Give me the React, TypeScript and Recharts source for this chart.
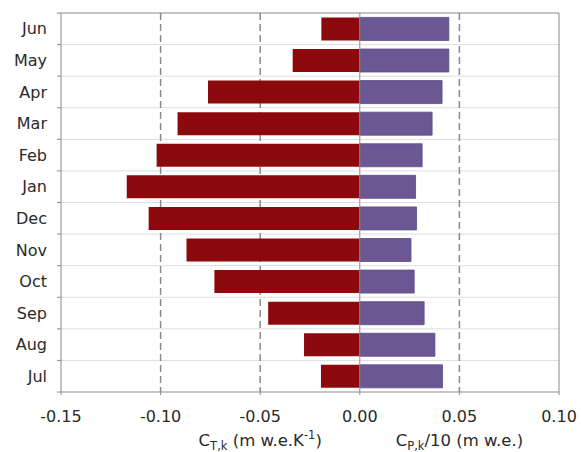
import React from "react";
import {
  BarChart,
  Bar,
  XAxis,
  YAxis,
  CartesianGrid,
  ReferenceLine,
  Label,
} from "recharts";

const months = ["Jun", "May", "Apr", "Mar", "Feb", "Jan", "Dec", "Nov", "Oct", "Sep", "Aug", "Jul"];
const tempSensitivity = [-0.0193, -0.0337, -0.0762, -0.0915, -0.102, -0.117, -0.106, -0.087, -0.073, -0.046, -0.028, -0.0195];
const precipSensitivity = [0.0447, 0.0447, 0.0413, 0.0363, 0.0313, 0.028, 0.0285, 0.0257, 0.0273, 0.0323, 0.0377, 0.0415];
const xTicks = [-0.15, -0.1, -0.05, 0, 0.05, 0.1];
const dashedAt = [-0.1, -0.05, 0.05];
const X_MIN = -0.15;
const X_MAX = 0.1;
const Y_AXIS_W = 61;
const TICK_LEN = 4;

const data = months.map((m, i) => ({ month: m, t: tempSensitivity[i], p: precipSensitivity[i] }));

const FONT = "'DejaVu Sans', Verdana, sans-serif";
const TEXT = "#2a2a2a";
const AXIS = "#8a8a8a";

const bandBoundaries = (offset: any, inner: boolean) => {
  const n = months.length;
  const out: number[] = [];
  for (let k = inner ? 1 : 0; k <= (inner ? n - 1 : n); k++) {
    out.push(offset.top + (k * offset.height) / n);
  }
  return out;
};

const dashedCoords = (offset: any) =>
  dashedAt.map((v) => offset.left + ((v - X_MIN) / (X_MAX - X_MIN)) * offset.width);

const TitleLabel = (props: any) => {
  const vb = props.viewBox || { x: 0, y: 0, width: 0, height: 0 };
  const y = vb.y + 54;
  const x1 = vb.x + vb.width * 0.4;
  const x2 = vb.x + vb.width * 0.8;
  return (
    <g fontFamily={FONT} fill={TEXT}>
      <text x={x1} y={y} textAnchor="middle" fontSize={16.5}>
        <tspan>C</tspan>
        <tspan fontSize={11.5} dy={4}>T,k</tspan>
        <tspan dy={-4}> (m w.e.K</tspan>
        <tspan fontSize={11.5} dy={-7}>-1</tspan>
        <tspan dy={7}>)</tspan>
      </text>
      <text x={x2} y={y} textAnchor="middle" fontSize={16.5}>
        <tspan>C</tspan>
        <tspan fontSize={11.5} dy={4}>P,k</tspan>
        <tspan dy={-4}>/10 (m w.e.)</tspan>
      </text>
    </g>
  );
};

export default function App() {
  return (
    <div style={{ position: "absolute", left: 0, top: 0, width: 581, height: 452, background: "#fff" }}>
      <BarChart
        width={581}
        height={452}
        data={data}
        layout="vertical"
        stackOffset="sign"
        barCategoryGap="14%"
        margin={{ top: 13, right: 22, bottom: 0, left: 0 }}
      >
        <YAxis
          type="category"
          dataKey="month"
          width={Y_AXIS_W}
          tickSize={TICK_LEN}
          tickMargin={10}
          tickLine={false}
          axisLine={false}
          tick={{ fill: TEXT, fontSize: 16, fontFamily: FONT }}
        />
        <XAxis
          type="number"
          domain={[X_MIN, X_MAX]}
          ticks={xTicks}
          allowDataOverflow
          height={60}
          tickSize={3}
          tickMargin={16}
          tickFormatter={(v: number) => v.toFixed(2)}
          tick={{ fill: TEXT, fontSize: 16, fontFamily: FONT }}
          tickLine={{ stroke: AXIS }}
          axisLine={{ stroke: AXIS }}
        >
          <Label content={TitleLabel} />
        </XAxis>
        <CartesianGrid
          vertical={false}
          stroke="#dedede"
          horizontalCoordinatesGenerator={({ offset }: any) => bandBoundaries(offset, true)}
        />
        <CartesianGrid
          vertical={false}
          stroke={AXIS}
          horizontalCoordinatesGenerator={({ offset }: any) => [offset.top]}
        />
        <CartesianGrid
          horizontal={false}
          stroke="#8a8a8a"
          strokeWidth={1.5}
          strokeDasharray="7 4"
          verticalCoordinatesGenerator={({ offset }: any) => dashedCoords(offset)}
        />
        <CartesianGrid
          vertical={false}
          x={Y_AXIS_W - TICK_LEN}
          width={TICK_LEN}
          stroke={AXIS}
          horizontalCoordinatesGenerator={({ offset }: any) => bandBoundaries(offset, false)}
        />
        <Bar dataKey="t" stackId="s" fill="#8c0a0e" isAnimationActive={false} />
        <Bar dataKey="p" stackId="s" fill="#6b5794" stroke="#5c4a86" strokeWidth={0.8} isAnimationActive={false} />
        <ReferenceLine x={X_MAX} stroke={AXIS} />
        <ReferenceLine x={X_MIN} stroke={AXIS} />
        <ReferenceLine x={0} stroke="#8a8a8a" />
      </BarChart>
    </div>
  );
}
